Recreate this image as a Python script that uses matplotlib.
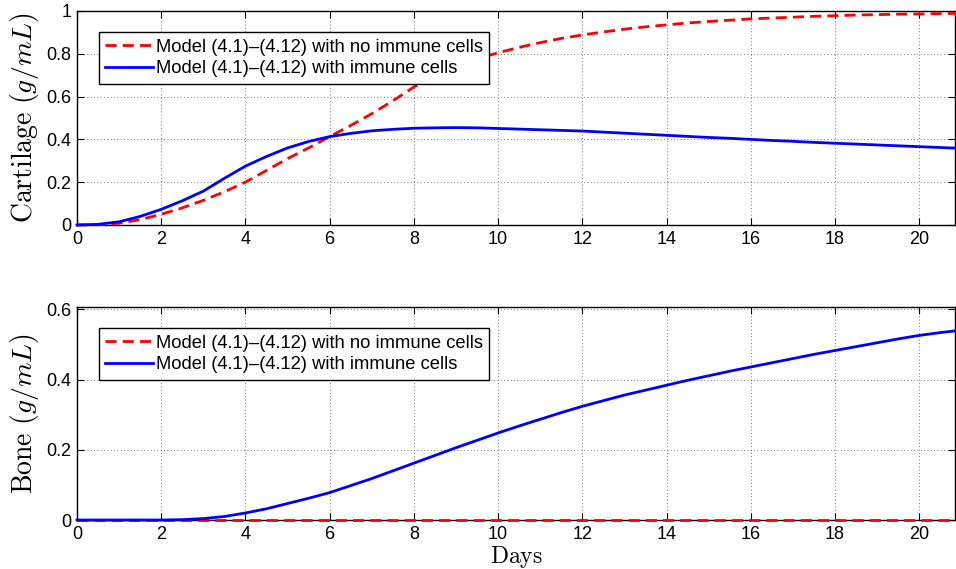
import matplotlib.pyplot as plt

# время (дни), шаг 0.5
days = [i * 0.5 for i in range(43)]

# хрящ
cart_no_immune = [0.0, 0.001, 0.008, 0.025, 0.05, 0.08, 0.115, 0.155, 0.2, 0.255, 0.31,
                  0.36, 0.413, 0.465, 0.52, 0.58, 0.645, 0.695, 0.738, 0.775, 0.805,
                  0.83, 0.852, 0.872, 0.888, 0.902, 0.915, 0.926, 0.935, 0.944, 0.951,
                  0.957, 0.963, 0.967, 0.971, 0.975, 0.978, 0.981, 0.983, 0.985, 0.986,
                  0.988, 0.989]
cart_immune = [0.0, 0.003, 0.015, 0.04, 0.073, 0.113, 0.158, 0.218, 0.275, 0.32, 0.36,
               0.39, 0.413, 0.428, 0.44, 0.447, 0.452, 0.454, 0.455, 0.454, 0.451,
               0.448, 0.445, 0.442, 0.439, 0.434, 0.429, 0.424, 0.419, 0.414, 0.409,
               0.405, 0.40, 0.395, 0.391, 0.386, 0.382, 0.378, 0.374, 0.37, 0.366,
               0.362, 0.358]

# кость
bone_no_immune = [0.0] * 43
bone_immune = [0.0, 0.0, 0.0, 0.0, 0.0, 0.001, 0.004, 0.01, 0.02, 0.032, 0.047,
               0.062, 0.078, 0.098, 0.118, 0.14, 0.162, 0.184, 0.206, 0.227, 0.248,
               0.268, 0.287, 0.306, 0.324, 0.34, 0.356, 0.37, 0.384, 0.398, 0.411,
               0.424, 0.436, 0.448, 0.46, 0.472, 0.483, 0.494, 0.505, 0.516, 0.526,
               0.534, 0.541]

label_red = 'Model (4.1)\u2013(4.12) with no immune cells'
label_blue = 'Model (4.1)\u2013(4.12) with immune cells'

plt.rcParams['font.family'] = ['Liberation Sans', 'DejaVu Sans']
plt.rcParams['mathtext.fontset'] = 'cm'

DASH = (0, (4, 2.2))


def style_axes(ax, ylim, yticks, yticklabels):
    ax.set_xlim(0, 20.85)
    ax.set_ylim(*ylim)
    ax.set_xticks(range(0, 21, 2))
    ax.set_yticks(yticks)
    ax.set_yticklabels(yticklabels)
    ax.tick_params(direction='in', top=True, right=True, labelsize=13, length=5, pad=4)
    ax.grid(True, linestyle=(0, (1, 3)), color='black', linewidth=0.6, alpha=0.7)
    for s in ax.spines.values():
        s.set_linewidth(1.0)
        s.set_zorder(2)
    leg = ax.legend(loc='upper left', bbox_to_anchor=(0.025, 0.9), fontsize=13.2,
                    frameon=True, fancybox=False, framealpha=1, edgecolor='black',
                    borderpad=0.35, labelspacing=0.25, handlelength=2.6,
                    handletextpad=0.15, borderaxespad=0)
    leg.get_frame().set_linewidth(1.0)
    leg.set_zorder(5)


fig = plt.figure(figsize=(9.56, 5.69), dpi=100)
ax1 = fig.add_axes([0.0805, 0.6046, 0.9185, 0.3761])
ax2 = fig.add_axes([0.0805, 0.0861, 0.9185, 0.3744])

ax1.plot(days, cart_no_immune, color='red', linestyle=DASH, linewidth=2, label=label_red,
         zorder=3, clip_on=False)
ax1.plot(days, cart_immune, color='blue', linewidth=2, label=label_blue, zorder=3.1,
         clip_on=False)
ax1.set_ylabel(r'$\mathrm{Cartilage}\ (g/mL)$', fontsize=20, labelpad=4)
style_axes(ax1, (0, 1), [0, 0.2, 0.4, 0.6, 0.8, 1], ['0', '0.2', '0.4', '0.6', '0.8', '1'])

ax2.plot(days, bone_no_immune, color='red', linestyle=DASH, linewidth=2, label=label_red,
         zorder=3, clip_on=False)
ax2.plot(days, bone_immune, color='blue', linewidth=2, label=label_blue, zorder=3.1,
         clip_on=False)
ax2.set_ylabel(r'$\mathrm{Bone}\ (g/mL)$', fontsize=20, labelpad=4)
ax2.set_xlabel(r'$\mathrm{Days}$', fontsize=17, labelpad=1)
style_axes(ax2, (0, 0.607), [0, 0.2, 0.4, 0.6], ['0', '0.2', '0.4', '0.6'])

fig.savefig('out.png', dpi=100)
